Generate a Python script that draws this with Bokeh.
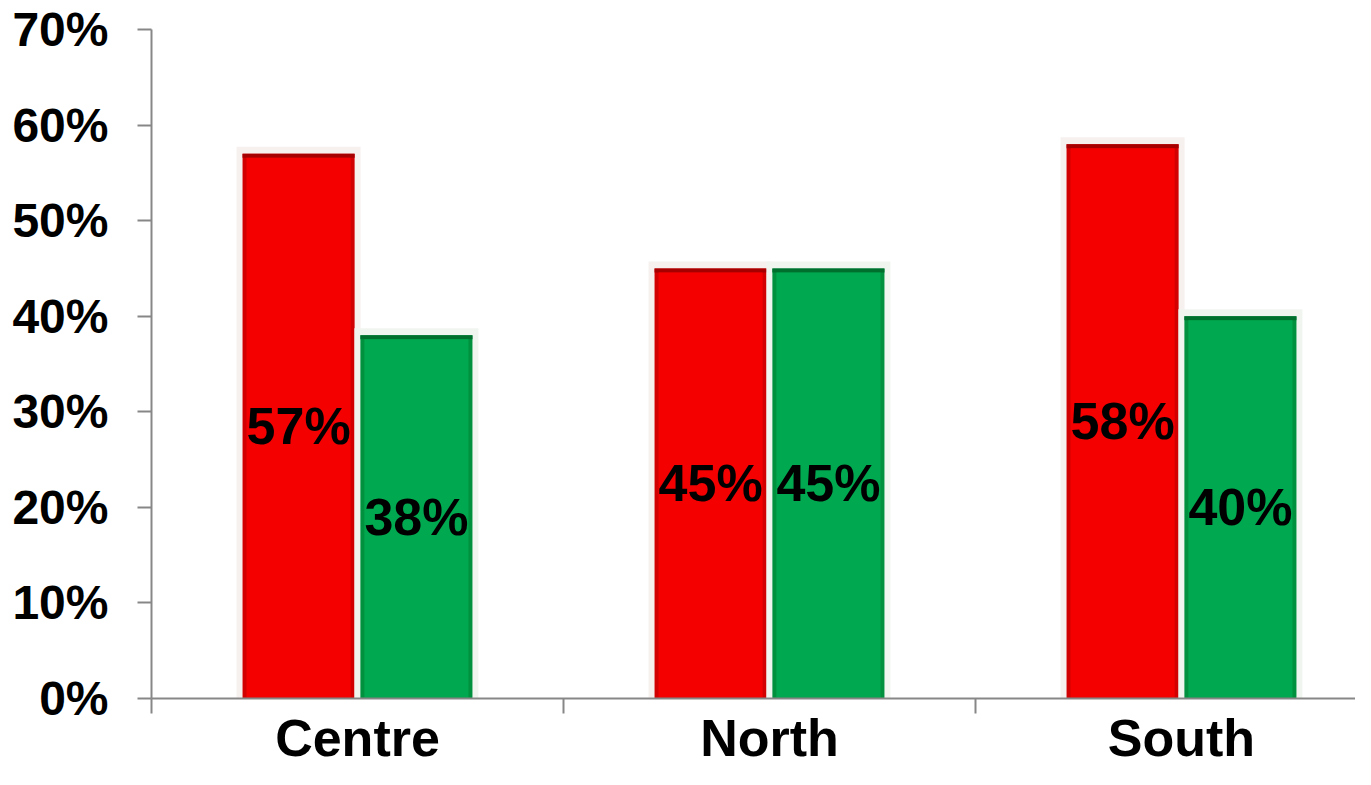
from bokeh.plotting import figure
from bokeh.models import FixedTicker, NumeralTickFormatter, Range1d, ColumnDataSource
from bokeh.core.properties import value
from bokeh.embed import file_html
from bokeh.resources import INLINE

# ---- data ----
categories = ["Centre", "North", "South"]
red_values = [0.57, 0.45, 0.58]
green_values = [0.38, 0.45, 0.40]
red_labels = ["57%", "45%", "58%"]
green_labels = ["38%", "45%", "40%"]
y_ticks = [0.0, 0.1, 0.2, 0.3, 0.4, 0.5, 0.6, 0.7]

FONT = "Liberation Sans"
W, H = 1355, 769
LEFT, TOP, BOTTOM, RIGHT = 151, 29, 71, 0
frame_w = W - LEFT - RIGHT
frame_h = H - TOP - BOTTOM
unit_px = 412.0
x_end = frame_w / unit_px
px_x = 1.0 / unit_px
px_y = 0.7 / frame_h

p = figure(width=W, height=H, output_backend="svg", toolbar_location=None,
           x_range=Range1d(0, x_end), y_range=Range1d(0, 0.7),
           min_border_left=LEFT, min_border_top=TOP, min_border_bottom=BOTTOM,
           min_border_right=RIGHT)
p.outline_line_color = None
p.xgrid.visible = False
p.ygrid.visible = False
p.background_fill_color = "white"
p.border_fill_color = "white"

centers = [i + 0.5 for i in range(len(categories))]
off = 0.143
bw = 0.272

def draw_series(xs, vals, labels, glow, side, top, main):
    src = ColumnDataSource(dict(x=xs, top=vals,
                                gtop=[v + 7 * px_y for v in vals],
                                itop=[v - 4 * px_y for v in vals],
                                stop=[v - 4 * px_y for v in vals],
                                mid=[v / 2 for v in vals], lab=labels))
    p.vbar(x="x", top="gtop", bottom=0, width=bw + 12 * px_x, source=src,
           fill_color=glow, line_color=None)
    p.vbar(x="x", top="top", bottom=0, width=bw, source=src,
           fill_color=side, line_color=None)
    p.vbar(x="x", top="top", bottom="stop", width=bw, source=src,
           fill_color=top, line_color=None)
    p.vbar(x="x", top="itop", bottom=1 * px_y, width=bw - 8 * px_x, source=src,
           fill_color=main, line_color=None)
    p.text(x="x", y="mid", text="lab", source=src, text_align="center",
           text_baseline="middle", text_font=value(FONT), text_font_style="bold",
           text_font_size="52px", text_color="#000000")

draw_series([c - off for c in centers], red_values, red_labels,
            "#F6F0EF", "#D20000", "#A60000", "#F50000")
draw_series([c + off for c in centers], green_values, green_labels,
            "#F1F5EF", "#00913F", "#006F2E", "#00A84F")

# y axis
ya = p.yaxis[0]
ya.ticker = FixedTicker(ticks=y_ticks)
ya.formatter = NumeralTickFormatter(format="0%")
ya.axis_line_color = "#878787"
ya.axis_line_width = 2
ya.major_tick_line_color = "#878787"
ya.major_tick_line_width = 2
ya.major_tick_out = 14
ya.major_tick_in = 0
ya.minor_tick_line_color = None
ya.major_label_standoff = 29
ya.major_label_text_font = FONT
ya.major_label_text_font_style = "bold"
ya.major_label_text_font_size = "48px"
ya.major_label_text_color = "#000000"

# x axis
xa = p.xaxis[0]
xa.ticker = FixedTicker(ticks=centers, minor_ticks=[float(i) for i in range(len(categories) + 1)])
xa.major_label_overrides = {c: name for c, name in zip(centers, categories)}
xa.axis_line_color = "#878787"
xa.axis_line_width = 2
xa.major_tick_line_color = None
xa.major_tick_out = 0
xa.major_tick_in = 0
xa.minor_tick_line_color = "#878787"
xa.minor_tick_line_width = 2
xa.minor_tick_out = 15
xa.minor_tick_in = 0
xa.major_label_standoff = -5
xa.major_label_text_font = FONT
xa.major_label_text_font_style = "bold"
xa.major_label_text_font_size = "52px"
xa.major_label_text_color = "#000000"

open("out.html", "w").write(file_html(p, INLINE))
